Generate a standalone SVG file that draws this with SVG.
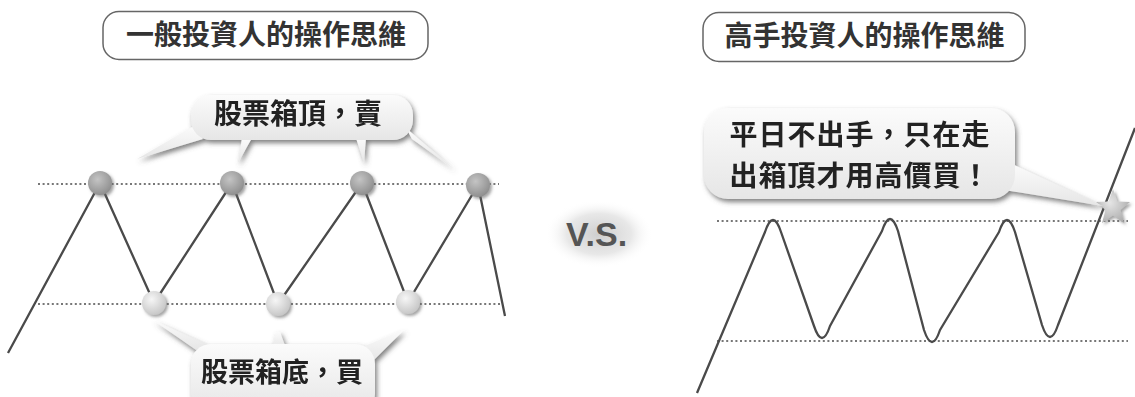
<svg xmlns="http://www.w3.org/2000/svg" width="1135" height="397" viewBox="0 0 1135 397">
<defs>
<style>
.title{font-family:"Noto Sans CJK TC","Noto Sans CJK SC",sans-serif;font-weight:bold;font-size:28px;fill:#333;text-anchor:middle}
.btxt{font-family:"Noto Sans CJK TC","Noto Sans CJK SC",sans-serif;font-weight:bold;fill:#222;text-anchor:middle}
.tbox{fill:#fff;stroke:#666;stroke-width:1.5}
.dot{stroke:#777;stroke-width:2;stroke-dasharray:2 2.6;fill:none}
.trend{stroke:#4a4a4a;stroke-width:2.3;fill:none;stroke-linejoin:round}
.bub{fill:url(#bubg)}
</style>
<linearGradient id="bubg" x1="0" y1="0" x2="0" y2="1">
<stop offset="0" stop-color="#fbfbfb"/>
<stop offset="1" stop-color="#e6e6e6"/>
</linearGradient>
<radialGradient id="topc" cx="0.4" cy="0.35" r="0.7">
<stop offset="0" stop-color="#c4c4c4"/>
<stop offset="1" stop-color="#8c8c8c"/>
</radialGradient>
<radialGradient id="botc" cx="0.4" cy="0.35" r="0.7">
<stop offset="0" stop-color="#f6f6f6"/>
<stop offset="1" stop-color="#c4c4c4"/>
</radialGradient>
<radialGradient id="starg" cx="0.4" cy="0.4" r="0.7">
<stop offset="0" stop-color="#e6e6e6"/>
<stop offset="1" stop-color="#a8a8a8"/>
</radialGradient>
<radialGradient id="halo" cx="0.5" cy="0.5" r="0.5">
<stop offset="0" stop-color="#c8c8c8" stop-opacity="0.9"/>
<stop offset="0.6" stop-color="#d8d8d8" stop-opacity="0.6"/>
<stop offset="1" stop-color="#ffffff" stop-opacity="0"/>
</radialGradient>
<filter id="shadow" x="-20%" y="-30%" width="140%" height="170%">
<feGaussianBlur in="SourceAlpha" stdDeviation="2.5"/>
<feOffset dx="2" dy="3" result="b"/>
<feFlood flood-color="#555" flood-opacity="0.75"/>
<feComposite in2="b" operator="in"/>
<feMerge><feMergeNode/><feMergeNode in="SourceGraphic"/></feMerge>
</filter>
<filter id="cshadow" x="-50%" y="-50%" width="200%" height="200%">
<feGaussianBlur in="SourceAlpha" stdDeviation="1.5"/>
<feOffset dx="1.5" dy="2" result="b"/>
<feFlood flood-color="#666" flood-opacity="0.6"/>
<feComposite in2="b" operator="in"/>
<feMerge><feMergeNode/><feMergeNode in="SourceGraphic"/></feMerge>
</filter>
</defs>
<rect width="1135" height="397" fill="#fff"/>

<g id="title-left">
<rect class="tbox" x="103" y="11.5" width="325" height="48" rx="16"/>
<text class="title" x="266" y="45">一般投資人的操作思維</text>
</g>
<g id="title-right">
<rect class="tbox" x="703" y="12.5" width="322" height="49" rx="16"/>
<text class="title" x="864.5" y="46">高手投資人的操作思維</text>
</g>

<g id="vs">
<ellipse cx="599" cy="234" rx="54" ry="34" fill="url(#halo)"/>
<text x="566" y="246" font-family="Liberation Sans,Arial,sans-serif" font-weight="bold" font-size="34" fill="#555">V.S.</text>
</g>

<g id="guides">
<line class="dot" x1="38" y1="184" x2="499" y2="184"/>
<line class="dot" x1="38" y1="304" x2="500" y2="304"/>
<line class="dot" x1="717" y1="221" x2="1128" y2="221"/>
<line class="dot" x1="717" y1="341" x2="1128" y2="341"/>
</g>

<g id="connectors">
<polyline class="trend" points="8,353 100,183 154,303 232,183 278,304 362,183 408,302 478,185 505,316"/>
<path class="trend" d="M697,393 L765,232 Q773,208 781,232 L814,326 Q822,350 830,326 L882,231 Q890,207 898,231 L924,330 Q932,354 940,330 L999,232 Q1007,208 1015,232 L1042,325 Q1050,349 1058,325 L1135,128"/>
</g>

<g id="top-points" filter="url(#cshadow)">
<circle cx="100" cy="183" r="12" fill="url(#topc)"/>
<circle cx="232" cy="183" r="12" fill="url(#topc)"/>
<circle cx="362" cy="183" r="12" fill="url(#topc)"/>
<circle cx="478" cy="185" r="12" fill="url(#topc)"/>
</g>
<g id="bottom-points" filter="url(#cshadow)">
<circle cx="154" cy="303" r="12" fill="url(#botc)"/>
<circle cx="278" cy="304" r="12" fill="url(#botc)"/>
<circle cx="408" cy="302" r="12" fill="url(#botc)"/>
</g>

<g id="star" filter="url(#cshadow)">
<polygon fill="url(#starg)" points="1113,189 1117.5,201.5 1130,202 1120.5,210 1124,223 1113,215.5 1102,223 1105.5,210 1096,202 1108.5,201.5"/>
</g>

<g id="callout-sell" filter="url(#shadow)">
<polygon class="bub" points="194,126 203,139 137,159"/>
<polygon class="bub" points="242,138 252,138 238,163"/>
<polygon class="bub" points="356,138 366,138 364,163"/>
<polygon class="bub" points="406,128 412,139 454,169"/>
<rect class="bub" x="191" y="95" width="222" height="45" rx="20"/>
<text class="btxt" x="298" y="124" font-size="28">股票箱頂，賣</text>
</g>

<g id="callout-buy" filter="url(#shadow)">
<polygon class="bub" points="153,320 196,350 210,346"/>
<polygon class="bub" points="276,332 280,332 286,348 272,348"/>
<polygon class="bub" points="404,330 360,348 372,362"/>
<rect class="bub" x="191" y="344" width="184" height="70" rx="20"/>
<text class="btxt" x="282" y="382" font-size="27">股票箱底，買</text>
</g>

<g id="callout-expert" filter="url(#shadow)">
<polygon class="bub" points="1010,163 1004,190 1103,206"/>
<rect class="bub" x="704" y="108" width="311" height="91" rx="24"/>
<text class="btxt" x="860" y="145" font-size="28" letter-spacing="1">平日不出手，只在走</text>
<text class="btxt" x="860" y="186" font-size="28" letter-spacing="1">出箱頂才用高價買！</text>
</g>
</svg>
